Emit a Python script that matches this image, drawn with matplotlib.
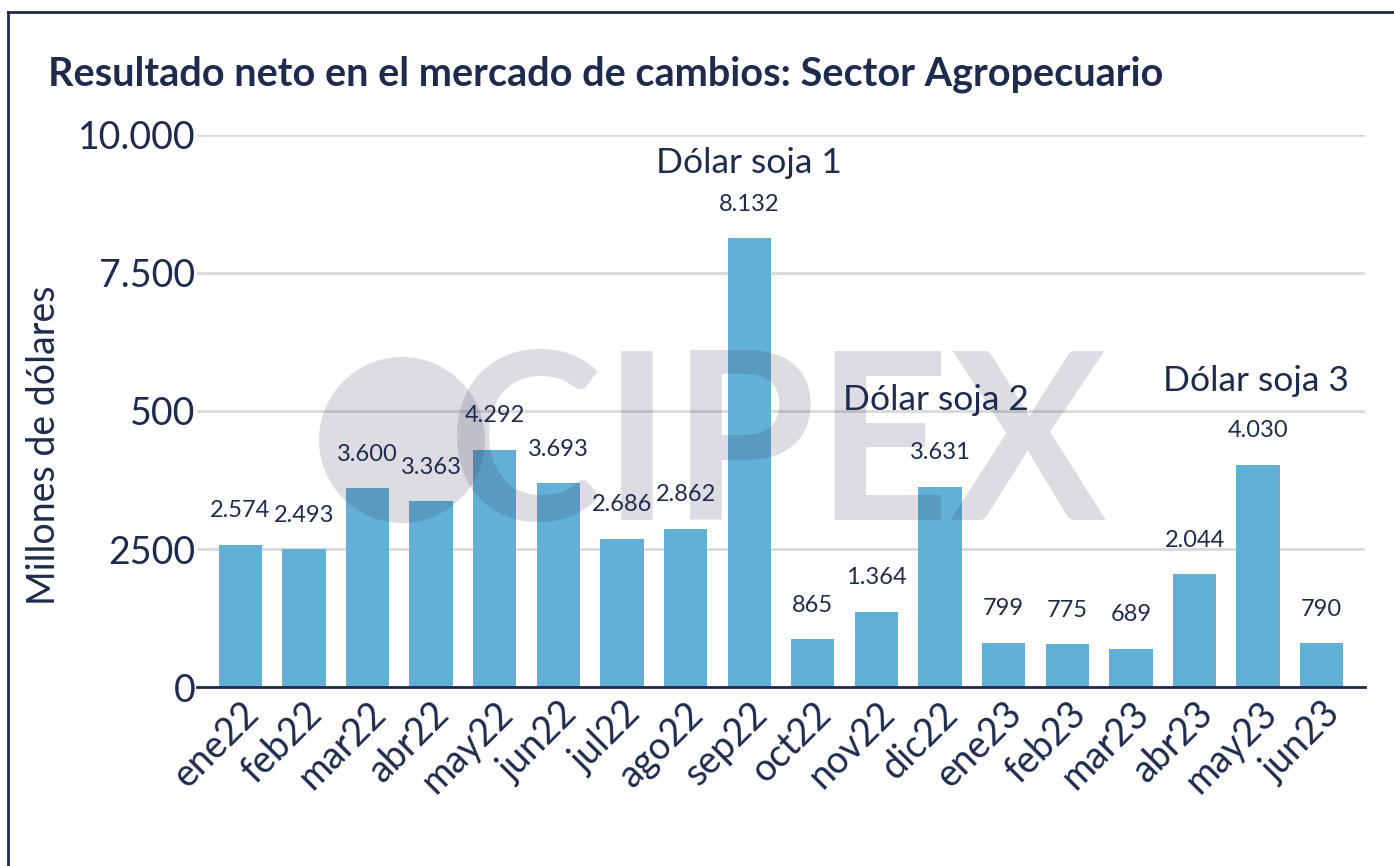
import numpy as np
import matplotlib
matplotlib.use("Agg")
from matplotlib import pyplot as plt
from matplotlib.patches import Ellipse
from matplotlib.lines import Line2D
import matplotlib.transforms as mtransforms

# data (millones de dólares)
months = ["ene22", "feb22", "mar22", "abr22", "may22", "jun22", "jul22", "ago22", "sep22",
          "oct22", "nov22", "dic22", "ene23", "feb23", "mar23", "abr23", "may23", "jun23"]
values = [2574, 2493, 3600, 3363, 4292, 3693, 2686, 2862, 8132,
          865, 1364, 3631, 799, 775, 689, 2044, 4030, 790]
value_labels = ["2.574", "2.493", "3.600", "3.363", "4.292", "3.693", "2.686", "2.862", "8.132",
                "865", "1.364", "3.631", "799", "775", "689", "2.044", "4.030", "790"]
y_ticks = [0, 2500, 5000, 7500, 10000]
y_tick_labels = ["0", "2500", "500", "7.500", "10.000"]
notes = {"Dólar soja 1": (8, 9500), "Dólar soja 2": (10.93, 5200), "Dólar soja 3": (15.97, 5550)}

navy = "#1e2b4c"
bar_color = "#62b0d6"
W, H = 1394, 866

plt.rcParams["font.family"] = ["Lato", "DejaVu Sans"]

fig = plt.figure(figsize=(W / 100, H / 100), dpi=100)
ax = fig.add_axes([197 / W, 1 - 687 / H, (1365 - 197) / W, (687 - 135) / H])

x = np.arange(len(months))
ax.bar(x, values, width=0.68, color=bar_color, zorder=2)

for xi, v, lab in zip(x, values, value_labels):
    ax.annotate(lab, (xi, v), xytext=(0, 17), textcoords="offset points",
                ha="center", va="bottom", fontsize=17, color=navy, zorder=4)

for txt, (nx, ny) in notes.items():
    ax.text(nx, ny, txt, ha="center", va="center", fontsize=25.5, color=navy, zorder=4)

ax.set_xlim(-0.68, len(months) - 1 + 0.68)
ax.set_ylim(0, 10000)
ax.set_yticks(y_ticks)
ax.set_yticklabels(y_tick_labels, fontsize=27, color=navy)
ax.set_xticks(x)
ax.set_xticklabels(months, fontsize=27, color=navy, rotation=45, ha="right",
                   rotation_mode="anchor")
offset = mtransforms.ScaledTranslation(18 / 72, 0, fig.dpi_scale_trans)
for lbl in ax.get_xticklabels():
    lbl.set_transform(lbl.get_transform() + offset)
ax.tick_params(axis="both", length=0)
ax.tick_params(axis="y", pad=1)
ax.tick_params(axis="x", pad=6)
ax.yaxis.grid(True, color="#d9d9d9", linewidth=2, zorder=0)
ax.set_axisbelow(True)
for s in ["top", "right", "left"]:
    ax.spines[s].set_visible(False)
ax.spines["bottom"].set_color(navy)
ax.spines["bottom"].set_linewidth(2)
ax.spines["bottom"].set_zorder(3)

fig.text(44 / W, 1 - 445 / H, "Millones de dólares", rotation=90, fontsize=27, color=navy,
         ha="center", va="center")

fig.text(48 / W, 1 - 74 / H, "Resultado neto en el mercado de cambios: Sector Agropecuario",
         fontsize=28.5, fontweight="bold", color=navy, va="center", ha="left")

# watermark
wm_color = (40 / 255, 42 / 255, 80 / 255)
fig.patches.append(Ellipse((402 / W, 1 - 440 / H), 166 / W, 166 / H, transform=fig.transFigure,
                           facecolor=wm_color, alpha=0.16, edgecolor="none", zorder=5))
fig.text(448 / W, 1 - 452 / H, "CIPEX", fontsize=168, fontweight="bold", color=wm_color,
         alpha=0.16, va="center", ha="left", zorder=5)

# frame lines at left and top
fig.add_artist(Line2D([8 / W, 8 / W], [0, 1 - 12 / H], transform=fig.transFigure,
                      color=navy, linewidth=2))
fig.add_artist(Line2D([8 / W, 1], [1 - 12 / H, 1 - 12 / H], transform=fig.transFigure,
                      color=navy, linewidth=2))

fig.savefig("out.png", dpi=100, facecolor="white")
